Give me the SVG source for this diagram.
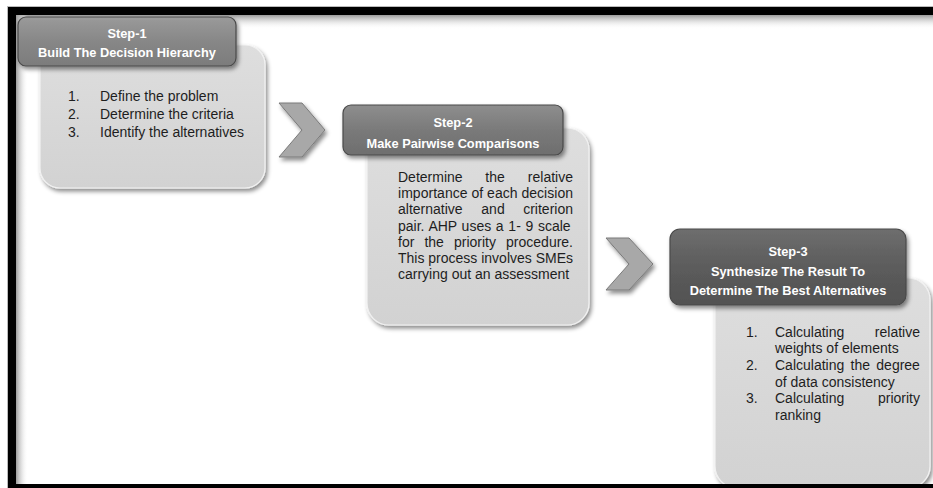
<svg xmlns="http://www.w3.org/2000/svg" width="933" height="488" viewBox="0 0 933 488">
<defs>
<linearGradient id="shTop" x1="0" y1="0" x2="0" y2="1"><stop offset="0" stop-color="#9a9a9a"/><stop offset="1" stop-color="#ffffff" stop-opacity="0"/></linearGradient>
<linearGradient id="shLeft" x1="0" y1="0" x2="1" y2="0"><stop offset="0" stop-color="#9a9a9a"/><stop offset="1" stop-color="#ffffff" stop-opacity="0"/></linearGradient>
<linearGradient id="bodyG" x1="0" y1="0" x2="0" y2="1"><stop offset="0" stop-color="#dedede"/><stop offset="1" stop-color="#d2d2d2"/></linearGradient>
<linearGradient id="h1G" x1="0" y1="0" x2="0" y2="1"><stop offset="0" stop-color="#9a9a9a"/><stop offset="0.5" stop-color="#878787"/><stop offset="1" stop-color="#7c7c7c"/></linearGradient>
<linearGradient id="h2G" x1="0" y1="0" x2="0" y2="1"><stop offset="0" stop-color="#8e8e8e"/><stop offset="0.5" stop-color="#7a7a7a"/><stop offset="1" stop-color="#6e6e6e"/></linearGradient>
<linearGradient id="h3G" x1="0" y1="0" x2="0" y2="1"><stop offset="0" stop-color="#6e6e6e"/><stop offset="0.5" stop-color="#5c5c5c"/><stop offset="1" stop-color="#525252"/></linearGradient>
<filter id="ds" x="-10%" y="-10%" width="125%" height="130%"><feDropShadow dx="2" dy="3" stdDeviation="2" flood-color="#000" flood-opacity="0.45"/></filter>
<style>
.body{fill:url(#bodyG);stroke:#f2f2f2;stroke-width:1.2;filter:url(#ds)}
.hdr{stroke:#4a4a4a;stroke-width:1.2;filter:url(#ds)}
.ht{font-family:"Liberation Sans",Arial,sans-serif;font-weight:bold;font-size:12.8px;fill:#ffffff;text-anchor:middle}
.bt{font-family:"Liberation Sans",Arial,sans-serif;font-size:14px;fill:#1e1e1e}
.end{text-anchor:end}
.mid{text-anchor:middle}
.chev{fill:#a8a8a8;stroke:#7a7a7a;stroke-width:1;filter:url(#ds)}
</style>
</defs>
<rect x="0" y="0" width="933" height="488" fill="#ffffff"/>
<rect x="16" y="15" width="917" height="14" fill="url(#shTop)"/>
<rect x="16" y="15" width="12" height="469" fill="url(#shLeft)"/>

<g id="connectors">
<polygon class="chev" points="279,103 302,103 325,130 302,157 279,157 302,130"/>
<polygon class="chev" points="606,238 629,238 653,264 629,290 606,290 629,264"/>
</g>

<g id="step1">
<rect class="body" x="40" y="45" width="225" height="143" rx="20"/>
<rect class="hdr" x="18" y="17" width="218" height="49" rx="8" fill="url(#h1G)"/>
<text class="ht" x="127" y="37.5">Step-1</text>
<text class="ht" x="127" y="56.5">Build The Decision Hierarchy</text>
<text class="bt" x="68" y="101">1.</text><text class="bt" x="100" y="101">Define the problem</text>
<text class="bt" x="68" y="119">2.</text><text class="bt" x="100" y="119">Determine the criteria</text>
<text class="bt" x="68" y="137">3.</text><text class="bt" x="100" y="137">Identify the alternatives</text>
</g>

<g id="step2">
<rect class="body" x="367" y="128" width="222" height="197" rx="22"/>
<rect class="hdr" x="343" y="105" width="220" height="50" rx="8" fill="url(#h2G)"/>
<text class="ht" x="453" y="126.5">Step-2</text>
<text class="ht" x="453" y="147.5">Make Pairwise Comparisons</text>
<text class="bt" x="398" y="182">Determine</text><text class="bt mid" x="495" y="182">the</text><text class="bt end" x="573" y="182">relative</text>
<text class="bt" x="398" y="198" textLength="175" lengthAdjust="spacing">importance of each decision</text>
<text class="bt" x="398" y="214">alternative</text><text class="bt mid" x="493" y="214">and</text><text class="bt end" x="573" y="214">criterion</text>
<text class="bt" x="398" y="231" word-spacing="0.8">pair. AHP uses a 1- 9 scale</text>
<text class="bt" x="398" y="247" word-spacing="6.2">for the priority procedure.</text>
<text class="bt" x="398" y="263" textLength="175" lengthAdjust="spacing">This process involves SMEs</text>
<text class="bt" x="398" y="279">carrying out an assessment</text>
</g>

<g id="step3">
<rect class="body" x="715" y="278" width="215" height="210" rx="22"/>
<rect class="hdr" x="670" y="229" width="236" height="76" rx="10" fill="url(#h3G)"/>
<text class="ht" x="788" y="255.5">Step-3</text>
<text class="ht" x="788" y="275.5">Synthesize The Result To</text>
<text class="ht" x="788" y="294.5">Determine The Best Alternatives</text>
<text class="bt" x="746" y="337">1.</text><text class="bt" x="775" y="337">Calculating</text><text class="bt end" x="920" y="337">relative</text>
<text class="bt" x="775" y="353">weights of elements</text>
<text class="bt" x="746" y="370">2.</text><text class="bt" x="775" y="370" word-spacing="2.4">Calculating the degree</text>
<text class="bt" x="775" y="387">of data consistency</text>
<text class="bt" x="746" y="403">3.</text><text class="bt" x="775" y="403">Calculating</text><text class="bt end" x="920" y="403">priority</text>
<text class="bt" x="775" y="420">ranking</text>
</g>

<g id="frame">
<rect x="8" y="7" width="925" height="8" fill="#000000"/>
<rect x="8" y="7" width="8" height="481" fill="#000000"/>
<rect x="8" y="484" width="925" height="4" fill="#000000"/>
<line x1="7.5" y1="6" x2="7.5" y2="488" stroke="#bbbbbb" stroke-width="1"/>
<line x1="7" y1="6.5" x2="933" y2="6.5" stroke="#bbbbbb" stroke-width="1"/>
</g>
</svg>
